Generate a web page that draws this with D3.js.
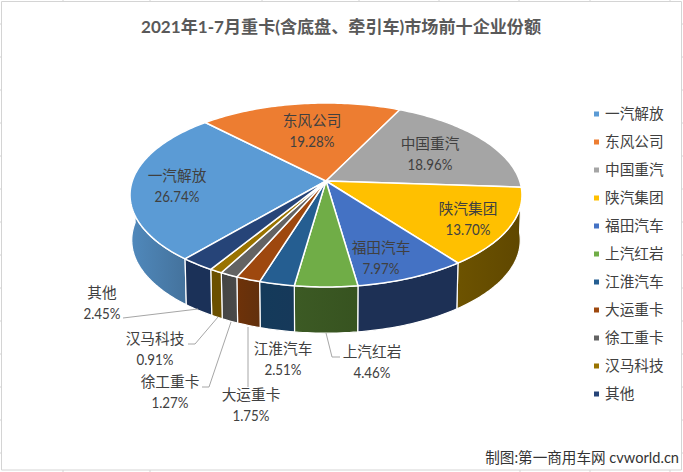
<!DOCTYPE html>
<html><head><meta charset="utf-8">
<script src="https://d3js.org/d3.v7.min.js"></script>
<style>html,body{margin:0;padding:0;background:#fff}svg{display:block}</style>
</head><body><svg id="c" width="683" height="472"></svg>
<script>
const categories=["一汽解放","东风公司","中国重汽","陕汽集团","福田汽车","上汽红岩","江淮汽车","大运重卡","徐工重卡","汉马科技","其他"];
const shares=[26.74,19.28,18.96,13.70,7.97,4.46,2.51,1.75,1.27,0.91,2.45];
const colors=["#5b9bd5","#ed7d31","#a5a5a5","#ffc000","#4472c4","#70ad47","#255e91","#9e480e","#636363","#997300","#264478"];
const sideA=["#5089bc","#a9561f","#707070","#6d5300","#1d3055","#3c5a24","#143a5a","#6e3209","#444444","#6b5000","#1b3158"];
const sideB=["#44729c","#a9561f","#707070","#5f4700","#1d3055","#375320","#16395a","#62300d","#4a4a4a","#6b5000","#1b3158"];
const title="2021年1-7月重卡(含底盘、牵引车)市场前十企业份额";
const credit="制图:第一商用车网 cvworld.cn";
const labelAt=[[177,176],[312,121],[430,144],[468,209],[381,248],[372,352],[283,349],[251,395],[170,382],[155,339],[102,293]];
const leaders=[null,null,null,null,null,
 [[326,333],[332,357],[340,357]],null,
 [[248,327],[248,387]],
 [[231,322],[209,387],[202,387]],
 [[218,317],[195,344],[188,344]],
 [[198,309],[123,318]]];

const svg=d3.select("#c");
const cjk='"Noto Sans CJK SC","Noto Sans",sans-serif';
const num='Lato,"Noto Sans CJK SC",sans-serif';
const defs=svg.append("defs");

// sheet border
const grid=svg.append("g").attr("stroke","#d4d4d4").attr("fill","none");
grid.append("path").attr("d","M1.5,470V1.5H681.5V470Z");
[63,150,262,359,439,519,590,670].forEach(x=>grid.append("path").attr("d",`M${x},0V1.5`));
[63,150,520,590,670].forEach(x=>grid.append("path").attr("d",`M${x},470V472`));
d3.range(24,470,33).forEach(y=>{grid.append("path").attr("d",`M681.5,${y}H683`);grid.append("path").attr("d",`M0,${y}H1.5`);});

const pie=d3.pie().sort(null).startAngle(220*Math.PI/180).endAngle(580*Math.PI/180);
const arcs=pie(shares);

// perspective of the pie disc
const persp=(cx,cy,rx,ry,dy,k)=>t=>{
  const u=Math.sin(t),v=-Math.cos(t),w=1-k*v;
  return [cx+rx*u/w,cy+(ry*v+dy)/w];
};
const topP=persp(326,195,193.7,92,-14,0.152);
const botP=persp(326,240,192,93,-14,0.152);
const apex=[326,181];
const line=d3.line();
const samples=(a,b)=>{const n=Math.max(2,Math.ceil((b-a)/0.02));return d3.range(n+1).map(i=>a+(b-a)*i/n);};

// sides
const frontA=88*Math.PI/180, frontB=272*Math.PI/180;
const gSide=svg.append("g");
arcs.forEach((d,i)=>{
  const a=d.startAngle,b=d.endAngle;
  [0,2*Math.PI,-2*Math.PI].forEach(s=>{
    const A=Math.max(a+s,frontA),B=Math.min(b+s,frontB);
    if(B<=A) return;
    const ts=samples(A,B);
    const upper=ts.map(topP), lower=ts.map(botP).reverse();
    const xs=upper.concat(lower).map(p=>p[0]);
    const id="g"+i+"_"+(s>0?1:s<0?2:0);
    const lg=defs.append("linearGradient").attr("id",id).attr("gradientUnits","userSpaceOnUse")
      .attr("x1",d3.min(xs)).attr("x2",d3.max(xs)).attr("y1",0).attr("y2",0);
    lg.append("stop").attr("offset",0).attr("stop-color",sideA[i]);
    lg.append("stop").attr("offset",1).attr("stop-color",sideB[i]);
    gSide.append("path").attr("d",line(upper.concat(lower))+"Z")
      .attr("fill",`url(#${id})`).attr("stroke","#fff").attr("stroke-width",1.2).attr("stroke-linejoin","round");
  });
});

// top face
const gTop=svg.append("g");
arcs.forEach((d,i)=>{
  const pts=[apex].concat(samples(d.startAngle,d.endAngle).map(topP));
  gTop.append("path").attr("d",line(pts)+"Z").attr("fill",colors[i])
    .attr("stroke","#fff").attr("stroke-width",1.5).attr("stroke-linejoin","round");
});

// leaders
svg.append("g").selectAll("path").data(leaders.filter(Boolean)).join("path")
  .attr("d",d=>line(d)).attr("fill","none").attr("stroke","#a6a6a6").attr("stroke-width",1);

// labels
const gL=svg.append("g").attr("text-anchor","middle");
categories.forEach((c,i)=>{
  const [x,y]=labelAt[i];
  gL.append("text").attr("x",x).attr("y",y).attr("dy","0.36em").attr("font-family",cjk).attr("font-size",14.67).attr("fill","#404040").text(c);
  const t=gL.append("text").attr("x",x).attr("y",y+21).attr("dy","0.36em").attr("font-family",num).attr("font-size",14.67).attr("fill","#404040").text(shares[i].toFixed(2)+"%");
  t.attr("textLength",t.node().getComputedTextLength()*0.91).attr("lengthAdjust","spacingAndGlyphs");
});

// legend
const step=28, lg0=114;
const leg=svg.append("g");
categories.forEach((c,i)=>{
  leg.append("rect").attr("x",594).attr("y",lg0+i*step-2.5).attr("width",5).attr("height",5).attr("fill",colors[i]);
  leg.append("text").attr("x",605).attr("y",lg0+i*step).attr("dy","0.36em").attr("font-family",cjk).attr("font-size",14.67).attr("fill","#404040").text(c);
});

// title, credit
svg.append("text").attr("x",341).attr("y",27).attr("dy","0.36em").attr("text-anchor","middle")
  .attr("font-family",'Lato,"Noto Sans CJK SC",sans-serif').attr("font-weight",700).attr("font-size",17.1).attr("fill","#595959").text(title);
svg.append("text").attr("x",679).attr("y",458).attr("dy","0.36em").attr("text-anchor","end")
  .attr("font-family",'Lato,"Noto Sans CJK SC",sans-serif').attr("font-size",14.6).attr("fill","#333").text(credit);
</script></body></html>
